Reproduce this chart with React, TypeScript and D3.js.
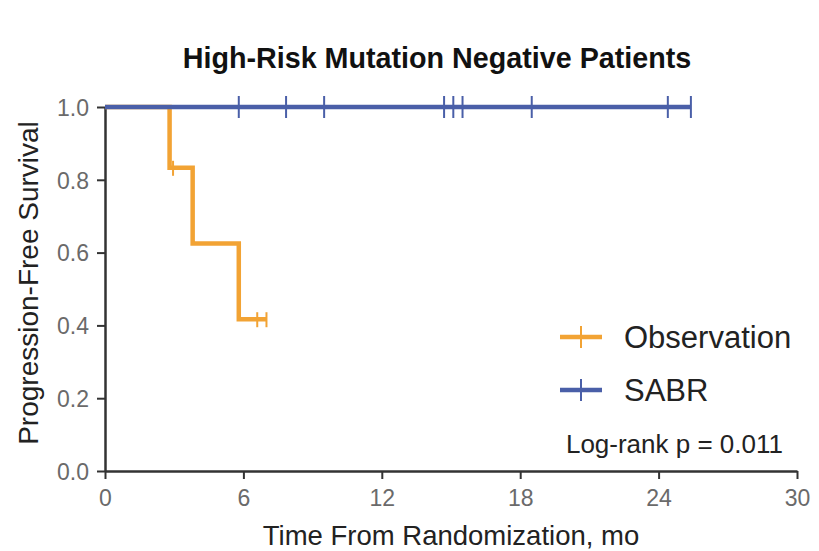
import React, { useRef, useEffect } from 'react';
import * as d3 from 'd3';

// Kaplan-Meier steps (time in months, survival)
const obsSteps: [number, number][] = [[0, 1], [2.8, 0.833], [3.8, 0.625], [5.8, 0.417], [7.0, 0.417]];
const obsCensor: [number, number][] = [[2.95, 0.833], [6.6, 0.417], [7.0, 0.417]];
const sabrSteps: [number, number][] = [[0, 1], [25.4, 1]];
const sabrCensor: number[] = [5.8, 7.85, 9.5, 14.7, 15.1, 15.5, 18.5, 24.4, 25.4];

const xTicks = [0, 6, 12, 18, 24, 30];
const yTicks = [0, 0.2, 0.4, 0.6, 0.8, 1.0];

const series = [
    { name: 'Observation', color: '#F2A334' },
    { name: 'SABR', color: '#4A5FA8' },
];

const W = 819, H = 551;
const FONT = '"Liberation Sans", Arial, Helvetica, sans-serif';

const KMChart: React.FC = () => {
    const ref = useRef<SVGSVGElement>(null);

    useEffect(() => {
        if (!ref.current) return;
        const svg = d3.select(ref.current);
        svg.selectAll('*').remove();

        const x = d3.scaleLinear().domain([0, 30]).range([105, 797]);
        const y = d3.scaleLinear().domain([0, 1]).range([471, 107]);

        svg.append('rect').attr('width', W).attr('height', H).attr('fill', '#fff');

        // title
        svg.append('text')
            .attr('x', 437).attr('y', 68)
            .attr('text-anchor', 'middle')
            .attr('font-family', FONT).attr('font-weight', 'bold').attr('font-size', 28.7)
            .attr('fill', '#111')
            .text('High-Risk Mutation Negative Patients');

        // axes
        const axisColor = '#333';
        const xAxis = svg.append('g').attr('transform', `translate(0,${y(0)})`)
            .call(d3.axisBottom(x).tickValues(xTicks).tickSize(8).tickSizeOuter(0).tickFormat(d3.format('d')));
        const yAxis = svg.append('g').attr('transform', `translate(${x(0)},0)`)
            .call(d3.axisLeft(y).tickValues(yTicks).tickSize(8).tickSizeOuter(0).tickFormat(d3.format('.1f')));
        [xAxis, yAxis].forEach(g => {
            g.select('.domain').attr('stroke', axisColor).attr('stroke-width', 2.5);
            g.selectAll('.tick line').attr('stroke', axisColor).attr('stroke-width', 2);
            g.selectAll('.tick text').attr('font-family', FONT).attr('font-size', 23).attr('fill', '#6a6a6a');
        });
        xAxis.selectAll('.tick text').attr('y', 35).attr('dy', 0);
        yAxis.selectAll('.tick text').attr('x', -16).attr('dy', '0.36em');

        // axis titles
        svg.append('text')
            .attr('x', 451).attr('y', 545)
            .attr('text-anchor', 'middle')
            .attr('font-family', FONT).attr('font-size', 27.5).attr('fill', '#222')
            .text('Time From Randomization, mo');
        svg.append('text')
            .attr('transform', `translate(38,283) rotate(-90)`)
            .attr('text-anchor', 'middle')
            .attr('font-family', FONT).attr('font-size', 28).attr('fill', '#222')
            .text('Progression-Free Survival');

        const line = d3.line<[number, number]>()
            .x(d => x(d[0])).y(d => y(d[1]))
            .curve(d3.curveStepAfter);

        // observation curve
        svg.append('path').datum(obsSteps)
            .attr('d', line).attr('fill', 'none')
            .attr('stroke', series[0].color).attr('stroke-width', 4.5);
        svg.selectAll('.obs-c').data(obsCensor).enter().append('line')
            .attr('x1', d => x(d[0])).attr('x2', d => x(d[0]))
            .attr('y1', d => y(d[1]) - 7).attr('y2', d => y(d[1]) + 8)
            .attr('stroke', series[0].color).attr('stroke-width', 2);

        // SABR curve
        svg.append('path').datum(sabrSteps)
            .attr('d', line).attr('fill', 'none')
            .attr('stroke', series[1].color).attr('stroke-width', 4.5);
        svg.selectAll('.sabr-c').data(sabrCensor).enter().append('line')
            .attr('x1', d => x(d)).attr('x2', d => x(d))
            .attr('y1', y(1) - 11).attr('y2', y(1) + 11)
            .attr('stroke', series[1].color).attr('stroke-width', 2);

        // legend
        const lg = svg.append('g');
        series.forEach((s, i) => {
            const ly = 337 + i * 53;
            lg.append('line').attr('x1', 560).attr('x2', 602).attr('y1', ly).attr('y2', ly)
                .attr('stroke', s.color).attr('stroke-width', 4.5);
            lg.append('line').attr('x1', 581).attr('x2', 581).attr('y1', ly - 11).attr('y2', ly + 11)
                .attr('stroke', s.color).attr('stroke-width', 2);
            lg.append('text').attr('x', 624).attr('y', ly + 11)
                .attr('font-family', FONT).attr('font-size', 31).attr('fill', '#222')
                .text(s.name);
        });

        svg.append('text')
            .attr('x', 783).attr('y', 453)
            .attr('text-anchor', 'end')
            .attr('font-family', FONT).attr('font-size', 26).attr('fill', '#222')
            .text('Log-rank p = 0.011');
    }, []);

    return <svg ref={ref} width={W} height={H} style={{ display: 'block' }}></svg>;
};

export default function App() {
    return (
        <div style={{ position: 'absolute', top: 0, left: 0 }}>
            <KMChart />
        </div>
    );
}
